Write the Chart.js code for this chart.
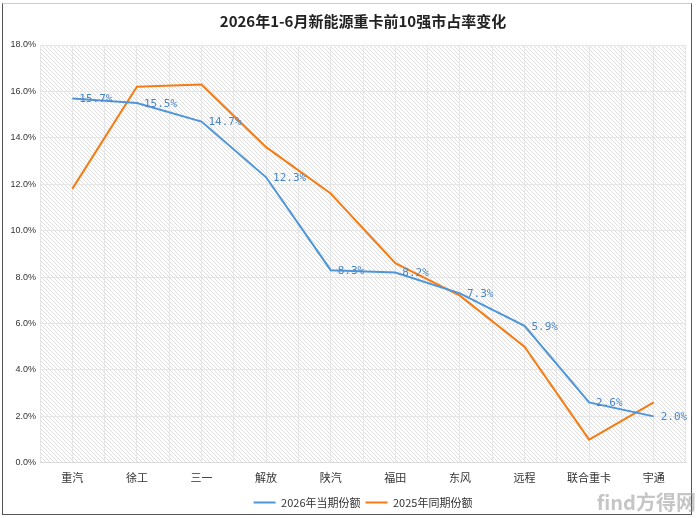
<!DOCTYPE html>
<html>
<head>
<meta charset="utf-8">
<script src="https://cdn.jsdelivr.net/npm/chart.js@4.4.1/dist/chart.umd.min.js"></script>
<style>
  html, body { margin: 0; padding: 0; background: #fff; }
  #wrap { position: absolute; left: 0; top: 0; width: 700px; height: 518px; }
  #frame { position: absolute; left: 2px; top: 3px; width: 688px; height: 510px; border: 1px solid #555; border-top-color: #ccc; pointer-events: none; }
  #mark { position: absolute; right: 4px; bottom: 2px; font: bold 20px "Noto Sans CJK SC", sans-serif; color: rgba(150,150,150,0.55); }
</style>
</head>
<body>
<div id="wrap"><canvas id="shareChart" width="700" height="518"></canvas></div>
<div id="frame"></div>
<div id="mark">find方得网</div>
<script>
const brands = ['重汽', '徐工', '三一', '解放', '陕汽', '福田', '东风', '远程', '联合重卡', '宇通'];
const share2026 = [15.7, 15.5, 14.7, 12.3, 8.3, 8.2, 7.3, 5.9, 2.6, 2.0];
const share2025 = [11.8, 16.2, 16.3, 13.6, 11.6, 8.6, 7.2, 5.0, 1.0, 2.6];
const seriesNames = ['2026年当期份额', '2025年同期份额'];

function makeHatch() {
    const c = document.createElement('canvas');
    c.width = 4; c.height = 4;
    const g = c.getContext('2d');
    g.fillStyle = '#ffffff';
    g.fillRect(0, 0, 4, 4);
    g.strokeStyle = '#dedede';
    g.lineWidth = 1;
    g.beginPath();
    g.moveTo(-1, -1); g.lineTo(5, 5);
    g.stroke();
    return c;
}

const hatchBackground = {
    id: 'hatchBackground',
    beforeDraw(chart) {
        const { ctx, chartArea } = chart;
        ctx.save();
        ctx.fillStyle = ctx.createPattern(makeHatch(), 'repeat');
        ctx.fillRect(chartArea.left, chartArea.top, chartArea.right - chartArea.left, chartArea.bottom - chartArea.top);
        ctx.restore();
    }
};

// centre title and legend over the plot area instead of the whole canvas
const centreOnPlot = {
    id: 'centreOnPlot',
    afterLayout(chart) {
        const mid = (chart.chartArea.left + chart.chartArea.right) / 2;
        [chart.titleBlock, chart.legend].forEach(box => {
            if (!box) return;
            const shift = mid - (box.left + box.right) / 2;
            box.left += shift;
            box.right += shift;
        });
    }
};

const valueLabels = {
    id: 'valueLabels',
    afterDatasetsDraw(chart) {
        const { ctx } = chart;
        const meta = chart.getDatasetMeta(0);
        ctx.save();
        ctx.font = '11px "DejaVu Sans Mono", monospace';
        ctx.fillStyle = '#4a86c8';
        ctx.textBaseline = 'middle';
        ctx.textAlign = 'left';
        meta.data.forEach((pt, i) => {
            ctx.fillText(share2026[i].toFixed(1) + '%', pt.x + 7, pt.y + 1);
        });
        ctx.restore();
    }
};

new Chart(document.getElementById('shareChart'), {
    type: 'line',
    data: {
        labels: brands,
        datasets: [
            { label: seriesNames[0], data: share2026, borderColor: '#4e95d9', backgroundColor: '#4e95d9', borderWidth: 2, pointRadius: 0, tension: 0, xAxisID: 'x' },
            { label: seriesNames[1], data: share2025, borderColor: '#f57c14', backgroundColor: '#f57c14', borderWidth: 2, pointRadius: 0, tension: 0, xAxisID: 'x' }
        ]
    },
    options: {
        responsive: false,
        animation: false,
        layout: { padding: { left: 4, right: 14, top: 0, bottom: 0 } },
        plugins: {
            title: {
                display: true,
                text: '2026年1-6月新能源重卡前10强市占率变化',
                color: '#222',
                font: { family: '"Noto Sans CJK SC", sans-serif', size: 15, weight: '600' },
                padding: { top: 12, bottom: 15 }
            },
            legend: {
                position: 'bottom',
                labels: {
                    usePointStyle: true,
                    pointStyle: 'line',
                    pointStyleWidth: 22,
                    color: '#333',
                    font: { family: '"Noto Sans CJK SC", sans-serif', size: 11 },
                    padding: 5
                }
            },
            tooltip: { enabled: false }
        },
        scales: {
            x: {
                offset: true,
                grid: { offset: true, color: '#e6e6e6', drawTicks: false },
                border: { color: '#dcdcdc' },
                ticks: { color: '#333', padding: 8, font: { family: '"Noto Sans CJK SC", sans-serif', size: 11 } }
            },
            x2: {
                type: 'category',
                labels: brands,
                offset: true,
                display: true,
                grid: { offset: false, color: '#e6e6e6', drawTicks: false },
                border: { display: false },
                ticks: { display: false }
            },
            y: {
                min: 0,
                max: 18,
                ticks: { stepSize: 2, color: '#333', padding: 4, font: { family: '"Liberation Sans", sans-serif', size: 9 },
                    callback: v => v.toFixed(1) + '%' },
                grid: { color: '#e6e6e6', drawTicks: false },
                border: { display: false },
                afterFit(scale) { scale.width = 36; }
            }
        }
    },
    plugins: [hatchBackground, centreOnPlot, valueLabels]
});
</script>
</body>
</html>
